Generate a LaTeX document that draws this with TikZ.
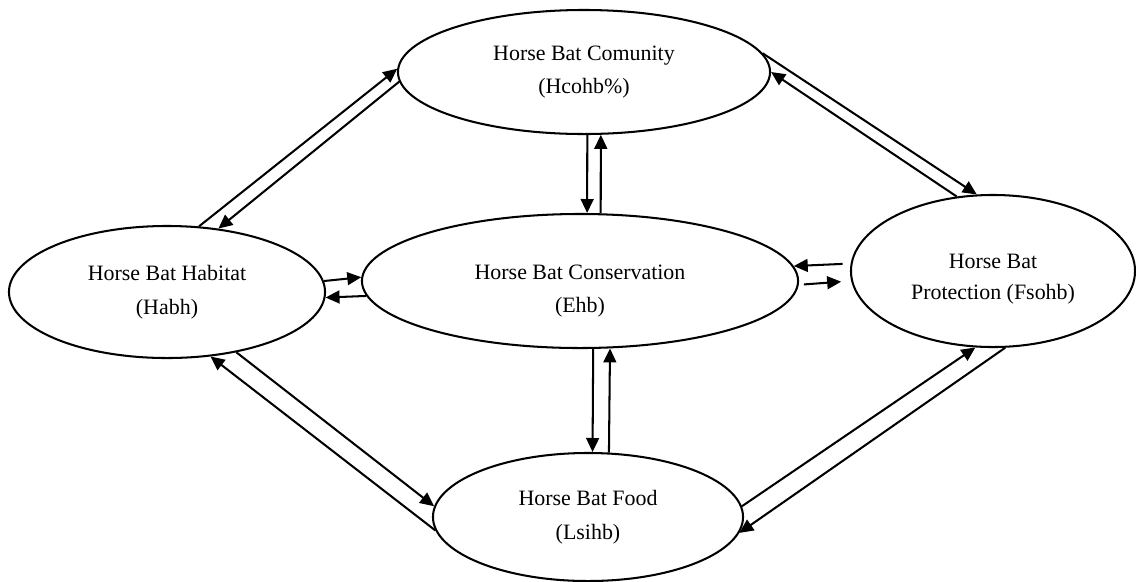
\documentclass[tikz,border=0pt]{standalone}
\usepackage{fontspec}
\setmainfont{Liberation Serif}
\usetikzlibrary{arrows.meta,shapes.geometric}

\newcommand{\dropline}[2]{\raisebox{-#1}[\height][\depth]{#2}}

\begin{document}
\begin{tikzpicture}[x=0.025cm, y=-0.025cm, line width=1.45pt, ->,
  >={Triangle[length=3.5mm,width=3.2mm]},
  bat/.style={draw, ellipse, inner sep=0pt, align=center,
    font=\fontsize{15.6}{24}\selectfont}]

  \useasboundingbox (0,0) rectangle (1136,581);

  \node[bat, minimum width=9.3cm, minimum height=3.1cm] (com) at (584,72) {Horse Bat Comunity\\(Hcohb\%)};
  \node[bat, minimum width=7.9cm, minimum height=3.3cm] (hab) at (167,292) {Horse Bat Habitat\\(Habh)};
  \node[bat, minimum width=10.9cm, minimum height=3.35cm] (con) at (580,281)
    {\dropline{2.5mm}{Horse Bat Conservation}\\\dropline{2.5mm}{(Ehb)}};
  \node[bat, minimum width=7.1cm, minimum height=3.8cm, font=\fontsize{15.6}{22.5}\selectfont] (pro) at (993,271)
    {\dropline{2mm}{Horse Bat}\\\dropline{2mm}{Protection (Fsohb)}};
  \node[bat, minimum width=7.75cm, minimum height=3.2cm] (food) at (588,517) {Horse Bat Food\\(Lsihb)};

  \path (hab.64) edge (com.179);
  \path (com.183) edge (hab.51);
  \path (com.6) edge (pro.102);
  \path (pro.116) edge (com.0);
  \path (hab.-41) edge (food.176);
  \path (food.185) edge (hab.-56);
  \path (food.4) edge (pro.-103);
  \path (pro.-81) edge (food.-6);

  \path (hab.4) edge (con.179);
  \path (con.184) edge (hab.-2);
  \path [shorten <=2mm] (pro.177) edge (con.4);
  \path [shorten <=1.3mm, shorten >=2.5mm] (con.-1) edge (pro.184);

  \path (com.-87) edge (con.84);
  \path (con.73) edge (com.-75);
  \path (con.-79) edge (food.86);
  \path (food.72) edge (con.-66);

\end{tikzpicture}
\end{document}
